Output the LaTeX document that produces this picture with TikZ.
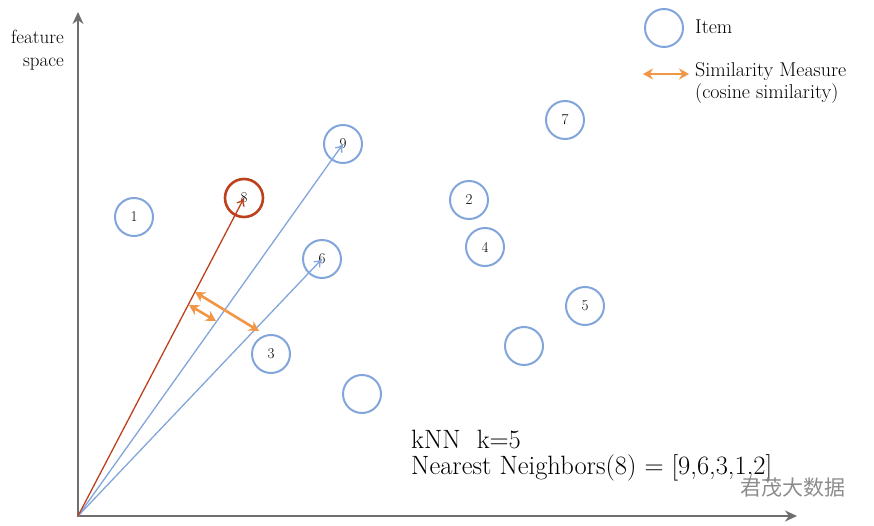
\documentclass[tikz,border=0pt]{standalone}
\usepackage{fontspec}
\newfontfamily\cjk{Noto Sans CJK SC}
\usetikzlibrary{arrows.meta}
\definecolor{itemblue}{RGB}{130,165,220}
\definecolor{vecred}{RGB}{190,65,30}
\definecolor{simorange}{RGB}{240,150,70}
\definecolor{axisgray}{RGB}{110,110,110}
\tikzset{
  item/.style={circle,draw=itemblue,line width=2pt,minimum size=38pt,inner sep=0pt,font=\fontsize{15}{15}\selectfont},
  target/.style={circle,draw=vecred,line width=2.6pt,minimum size=38pt,inner sep=0pt,font=\fontsize{15}{15}\selectfont},
  axis/.style={draw=axisgray,line width=2.6pt,-{Stealth[length=12pt,width=11pt]}},
  bluevec/.style={draw=itemblue,line width=1.3pt,-{To[length=8pt,width=9pt]}},
  redvec/.style={draw=vecred,line width=1.3pt,-{To[length=8pt,width=9pt]}},
  sim/.style={draw=simorange,line width=2.6pt,{Stealth[length=10pt,width=11pt]}-{Stealth[length=10pt,width=11pt]}},
  lbl/.style={inner sep=0pt,anchor=west,font=\fontsize{20}{20}\selectfont},
  big/.style={inner sep=0pt,anchor=west,font=\fontsize{26.5}{26.5}\selectfont}
}
\begin{document}
\begin{tikzpicture}[x=1pt,y=-1pt]
\useasboundingbox (0,0) rectangle (874,526);
% axes
\coordinate (O) at (78,516);
\coordinate (ytop) at (78,12);
\coordinate (xend) at (797,516);
\draw[axis] ([yshift=1.3pt]O) -- (ytop);
\draw[axis] ([xshift=-1.3pt]O) -- (xend);
\node[inner sep=0pt,align=right,anchor=north east,font=\fontsize{19}{23}\selectfont] (fs) at (64,30) {feature\\space};
% items
\node[item] (n1) at (134,217) {1};
\node[target] (n8) at (244,198) {8};
\node[item] (n9) at (343,144) {9};
\node[item] (n6) at (322,259) {6};
\node[item] (n3) at (271,354) {3};
\node[item] (nA) at (362,394) {};
\node[item] (n2) at (469,200) {2};
\node[item] (n4) at (485,247) {4};
\node[item] (n5) at (585,306) {5};
\node[item] (nB) at (524,346) {};
\node[item] (n7) at (565,120) {7};
% vectors
\draw[bluevec] (O) -- (n9.center);
\draw[bluevec] (O) -- (n6.center);
\draw[redvec] (O) -- (n8.center);
% similarity arrows
\coordinate (s1a) at (195,292);
\coordinate (s1b) at (259,331);
\coordinate (s2a) at (189,305);
\coordinate (s2b) at (216,321);
\draw[sim] (s1a) -- (s1b);
\draw[sim] (s2a) -- (s2b);
% legend
\node[item] (legitem) at (664,28) {};
\node[lbl] (legitemtxt) at (695,27) {Item};
\coordinate (lega) at (643,74);
\coordinate (legb) at (689,74);
\draw[sim] (lega) -- (legb);
\node[lbl,align=left,anchor=north west,font=\fontsize{20}{22}\selectfont] (legsim) at (695,62) {Similarity Measure\\(cosine similarity)};
% knn text
\node[big] (knn) at (411,440) {kNN\ \ k=5};
\node[big] (nn) at (411,468) {Nearest Neighbors(8) = [9,6,3,1,2]};
% watermark
\node[inner sep=0pt,anchor=west,text=black!45,font=\cjk\fontsize{21}{21}\selectfont] (wm) at (740,488) {君茂大数据};
\end{tikzpicture}
\end{document}
